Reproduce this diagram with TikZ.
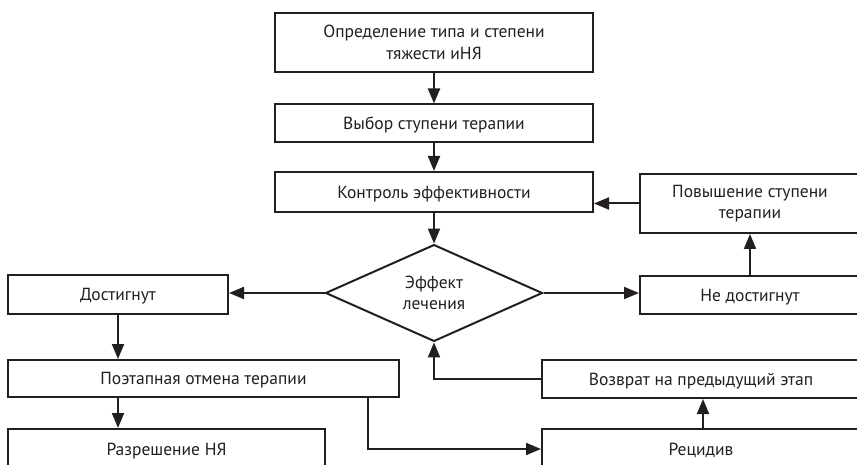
\documentclass[tikz,border=0pt]{standalone}
\usepackage{fontspec}
\setmainfont{PT Sans}
\usetikzlibrary{arrows.meta,shapes.geometric}
\definecolor{ink}{HTML}{231F20}
\begin{document}
\begin{tikzpicture}[x=1pt,y=-1pt,
  base/.style={draw=ink,line width=2pt,inner sep=0pt,align=center,text=ink,font=\fontsize{17.5}{21.7}\selectfont},
  box/.style={base,rectangle,text height=12.5pt,text depth=0pt},
  box2/.style={base,rectangle},
  dia/.style={base,diamond,minimum width=217pt,minimum height=96pt},
  arr/.style={draw=ink,line width=2pt,-{Triangle[length=15pt,width=12pt]}}]
\useasboundingbox (0,0) rectangle (857,465);
\clip (0,0) rectangle (857,465);
\node[box2,minimum width=318pt,minimum height=59pt] (b1) at (434,42.5) {Определение типа и степени\\тяжести иНЯ};
\node[box,minimum width=318pt,minimum height=38pt] (b2) at (434,123.5) {Выбор ступени терапии};
\node[box,minimum width=318pt,minimum height=40pt] (b3) at (434,192) {Контроль эффективности};
\node[box2,minimum width=220pt,minimum height=59pt] (pov) at (750,203.5) {Повышение ступени\\терапии};
\node[box,minimum width=220pt,minimum height=38pt] (ned) at (750,295) {Не достигнут};
\node[dia] (d) at (434,293) {Эффект\\лечения};
\node[box,minimum width=220pt,minimum height=39pt] (dost) at (118,294.5) {Достигнут};
\node[box,minimum width=391pt,minimum height=37pt] (poet) at (203.5,378.5) {Поэтапная отмена терапии};
\node[box,minimum width=317pt,minimum height=40pt] (razr) at (166.5,449) {Разрешение НЯ};
\node[box,minimum width=318pt,minimum height=40pt] (rec) at (701,449) {Рецидив};
\node[box,minimum width=318pt,minimum height=38pt] (voz) at (701,379) {Возврат на предыдущий этап};
\coordinate (pk) at ([xshift=-32pt]poet.south east);
\draw[arr] (b1) -- (b2);
\draw[arr] (b2) -- (b3);
\draw[arr] (b3) -- (d);
\draw[arr] (pov.west) -- (pov.west -| b3.east);
\draw[arr] (ned) -- (pov);
\draw[arr] (d.east) -- (d.east -| ned.west);
\draw[arr] (d.west) -- (d.west -| dost.east);
\draw[arr] (dost.south) -- (dost.south |- poet.north);
\draw[arr] (dost.south |- poet.south) -- (dost.south |- razr.north);
\draw[arr] (pk) |- (rec.west);
\draw[arr] (rec.north -| 703,0) -- (voz.south -| 703,0);
\draw[arr] (voz.west) -| (d.south);
\end{tikzpicture}
\end{document}
